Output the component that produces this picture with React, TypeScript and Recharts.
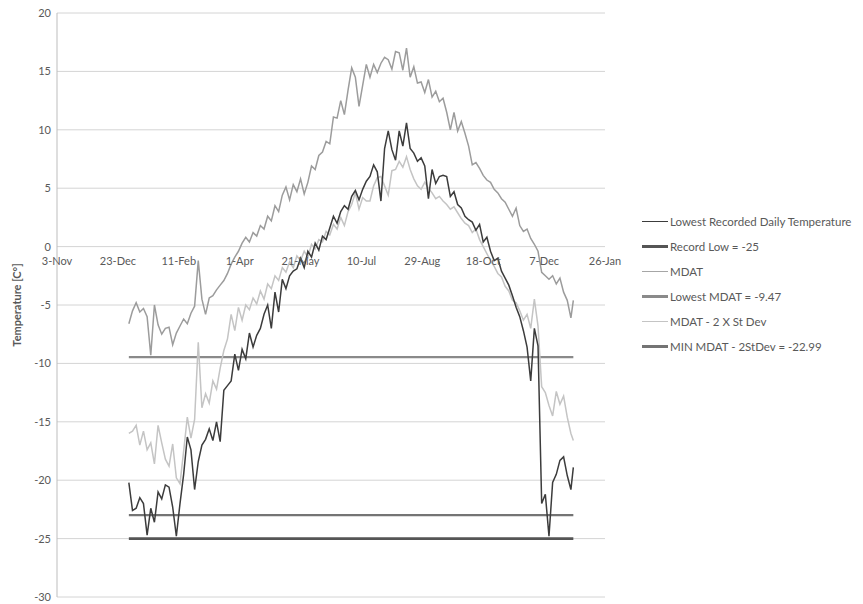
import React from "react";
import {
  LineChart,
  Line,
  XAxis,
  YAxis,
  CartesianGrid,
  ReferenceLine,
  Legend,
} from "recharts";

// x axis: days counted from 3-Nov (leap year), one label every 50 days
const xTickDays = [0, 50, 100, 150, 200, 250, 300, 350, 400, 450];
const xTickLabels = ["3-Nov", "23-Dec", "11-Feb", "1-Apr", "21-May", "10-Jul", "29-Aug", "18-Oct", "7-Dec", "26-Jan"];
const yTicks = [-30, -25, -20, -15, -10, -5, 0, 5, 10, 15, 20];

// day of year of each sample (Jan 1 = 1)
const days = [
  1, 4, 7, 10, 13, 16, 19, 22, 25, 28, 31, 34, 37, 40, 43, 46, 49, 52, 55, 58,
  61, 64, 67, 70, 73, 76, 79, 82, 85, 88, 91, 94, 97, 100, 103, 106, 109, 112, 115, 118,
  121, 124, 127, 130, 133, 136, 139, 142, 145, 148, 151, 154, 157, 160, 163, 166, 169, 172, 175, 178,
  181, 184, 187, 190, 193, 196, 199, 202, 205, 208, 211, 214, 217, 220, 223, 226, 229, 232, 235, 238,
  241, 244, 247, 250, 253, 256, 259, 262, 265, 268, 271, 274, 277, 280, 283, 286, 289, 292, 295, 298,
  301, 304, 307, 310, 313, 316, 319, 322, 325, 328, 331, 334, 337, 340, 343, 346, 349, 352, 355, 358,
  361, 364, 366,
];

const lowestRecorded = [
  -20.2, -22.6, -22.4, -21.5, -22.0, -24.7, -22.4, -23.6, -21.0, -21.6,
  -20.4, -20.6, -22.3, -24.8, -22.0, -19.5, -16.3, -17.4, -20.8, -18.4,
  -17.0, -16.5, -15.6, -16.6, -15.0, -16.7, -12.3, -11.9, -11.5, -9.2,
  -10.6, -8.8, -9.6, -7.4, -8.6, -7.6, -7.0, -5.8, -5.0, -7.0,
  -3.9, -5.6, -2.8, -3.6, -2.5, -2.1, -1.9, -1.0, -1.8, -0.4,
  -0.9, 0.3, -0.3, 0.9, 0.6, 1.6, 2.6, 2.0, 3.0, 3.5,
  3.2, 4.3, 4.8, 4.0, 4.9, 5.6, 6.0, 7.0, 6.4, 3.9,
  8.4, 9.9, 8.3, 7.4, 9.9, 8.6, 10.6, 8.4, 8.0, 7.3,
  7.6, 6.9, 4.1, 6.6, 5.4, 6.0, 6.1, 6.0, 4.3, 4.7,
  3.6, 3.3, 2.6, 2.3, 2.1, 1.4, 1.9, 0.4, 0.8, -0.4,
  -1.2, -1.0, -2.1, -2.7, -3.3, -4.2, -5.2, -6.0, -7.2, -8.6,
  -11.5, -7.0, -8.5, -22.0, -21.2, -24.8, -20.2, -19.5, -18.3, -18.0,
  -19.6, -20.8, -18.9,
];

const mdat = [
  -6.6, -5.5, -4.8, -5.6, -5.3, -6.0, -9.3, -5.0, -6.7, -7.5,
  -7.0, -6.9, -8.4, -7.4, -6.8, -6.2, -6.6, -5.7, -5.1, -1.2,
  -4.5, -5.8, -4.4, -4.2, -3.7, -3.3, -2.9, -2.3, -1.5, -0.9,
  -0.4, 0.3, 0.8, 0.4, 1.2, 0.9, 1.8, 1.5, 2.6, 2.2,
  3.5, 3.0, 4.4, 5.1, 4.0, 5.3, 4.7, 5.8, 4.5, 5.5,
  6.9, 6.6, 7.8, 8.1, 9.0, 8.8, 11.1, 11.0, 12.5, 11.3,
  13.4, 15.3, 14.5, 12.0, 13.8, 15.6, 14.5, 15.6, 14.9, 15.7,
  16.2, 16.0, 15.2, 16.7, 16.6, 15.1, 17.0, 14.5, 15.4, 14.0,
  14.1, 13.2, 14.3, 12.8, 13.3, 12.4, 12.7, 11.5, 10.0, 11.5,
  9.9, 10.7, 9.7, 8.6, 7.0, 7.2, 6.7, 6.1, 5.7, 5.5,
  4.9, 4.6, 4.1, 3.8, 3.2, 2.6, 3.3, 1.8, 1.3, 1.5,
  0.7, 0.2, -0.4, -2.2, -2.5, -2.8, -2.5, -3.2, -2.7, -3.9,
  -4.6, -6.1, -4.6,
];

const mdatMinus2Sd = [
  -16.0, -15.8, -15.3, -17.0, -15.8, -17.4, -16.8, -18.6, -15.3, -16.8,
  -18.2, -18.8, -16.9, -19.8, -20.3, -17.5, -14.6, -16.4, -14.8, -8.2,
  -13.8, -12.6, -13.4, -11.5, -12.2, -10.4, -8.9, -7.9, -5.8, -7.2,
  -5.2, -6.3, -5.0, -5.4, -4.4, -4.9, -3.8, -4.5, -3.2, -3.6,
  -2.5, -2.9, -1.8, -2.2, -1.3, -1.8, -0.8, -1.2, -0.4, -0.9,
  0.2, -0.2, 0.6, 0.4, 1.3, 1.0, 1.9, 1.5, 2.5, 1.8,
  3.0, 3.6, 4.6, 3.2, 4.2, 3.9, 3.9, 5.2, 5.9, 6.0,
  5.2, 4.4, 6.5, 6.6, 7.3, 6.8, 7.7, 6.6, 5.8, 5.2,
  4.9, 5.5, 5.0, 4.6, 4.1, 4.3, 3.9, 3.6, 3.2, 3.4,
  2.9, 2.4, 2.0, 1.8, 1.2, 1.5, 0.6, 0.0, -0.6, -1.2,
  -1.7, -2.3, -2.6, -3.4, -3.8, -4.6, -4.8, -5.5, -6.3, -5.8,
  -7.0, -4.5, -6.8, -12.0, -12.5, -13.6, -14.5, -12.4, -13.5, -12.8,
  -14.6, -16.0, -16.6,
];

const recordLow = -25;
const lowestMdat = -9.47;
const minMdat2Sd = -22.99;

const JAN1_OFFSET = 58; // 3-Nov + 59 days = 1-Jan

// layout
const W = 863;
const H = 604;
const PLOT_TOP = 13;
const PLOT_BOTTOM = 597;
const LEGEND_W = 221;
const PLOT_RIGHT = 605;
const Y_MIN = -30;
const Y_MAX = 20;
const ZERO_Y = PLOT_TOP + ((PLOT_BOTTOM - PLOT_TOP) * Y_MAX) / (Y_MAX - Y_MIN);

const TEXT = "#595959";

const data = days.map((d, i) => ({
  day: d + JAN1_OFFSET,
  low: lowestRecorded[i],
  mdat: mdat[i],
  mdat2sd: mdatMinus2Sd[i],
}));

const firstDay = days[0] + JAN1_OFFSET;
const lastDay = days[days.length - 1] + JAN1_OFFSET;

const legendItems = [
  { name: "Lowest Recorded Daily Temperature", color: "#3c3c3c", width: 1.5 },
  { name: "Record Low = -25", color: "#555555", width: 2.6 },
  { name: "MDAT", color: "#a6a6a6", width: 1.5 },
  { name: "Lowest MDAT = -9.47", color: "#8a8a8a", width: 2.2 },
  { name: "MDAT - 2 X St Dev", color: "#c4c4c4", width: 1.5 },
  { name: "MIN MDAT - 2StDev = -22.99", color: "#747474", width: 2.2 },
];

// x labels sit just under the 0 line, like Excel's crossing axis
function DateTick(props: any) {
  const { x, payload } = props;
  const idx = xTickDays.indexOf(payload.value);
  return (
    <text x={x} y={ZERO_Y + 18} textAnchor="middle" fill={TEXT} fontSize={11}>
      {xTickLabels[idx]}
    </text>
  );
}

function AxisTitle() {
  const cx = 21;
  const cy = (PLOT_TOP + PLOT_BOTTOM) / 2;
  return (
    <text
      x={cx}
      y={cy}
      transform={`rotate(-90 ${cx} ${cy})`}
      textAnchor="middle"
      fontSize={11}
      fontWeight="bold"
      fill={TEXT}
    >
      Temperature [C°]
    </text>
  );
}

function LegendBox() {
  return (
    <div>
      {legendItems.map((it) => (
        <div
          key={it.name}
          style={{ display: "flex", alignItems: "center", height: 25, whiteSpace: "nowrap" }}
        >
          <span
            style={{
              display: "inline-block",
              width: 26,
              height: it.width,
              background: it.color,
              marginRight: 2,
            }}
          />
          <span style={{ fontSize: 11.5, color: TEXT }}>{it.name}</span>
        </div>
      ))}
    </div>
  );
}

export default function App() {
  return (
    <div
      style={{
        position: "absolute",
        left: 0,
        top: 0,
        width: W,
        height: H,
        background: "#fff",
        fontFamily: "Lato, 'Open Sans', sans-serif",
      }}
    >
      <LineChart
        width={W}
        height={H}
        data={data}
        margin={{ top: PLOT_TOP, right: W - PLOT_RIGHT - LEGEND_W, bottom: 0, left: 0 }}
      >
        <CartesianGrid vertical={false} stroke="#d4d4d4" strokeWidth={1} />
        <XAxis
          type="number"
          dataKey="day"
          domain={[0, 450]}
          ticks={xTickDays}
          interval={0}
          tick={<DateTick />}
          axisLine={false}
          tickLine={false}
          height={H - PLOT_BOTTOM}
        />
        <YAxis
          type="number"
          domain={[Y_MIN, Y_MAX]}
          ticks={yTicks}
          interval={0}
          width={57}
          axisLine={{ stroke: "#bdbdbd" }}
          tickLine={false}
          tickSize={0}
          tickMargin={6}
          tick={{ fill: TEXT, fontSize: 11 }}
          label={<AxisTitle />}
        />
        <Legend
          layout="vertical"
          align="right"
          verticalAlign="top"
          content={<LegendBox />}
          wrapperStyle={{ left: 642, top: 209, width: LEGEND_W }}
        />

        <ReferenceLine
          segment={[{ x: firstDay, y: lowestMdat }, { x: lastDay, y: lowestMdat }]}
          stroke={legendItems[3].color}
          strokeWidth={legendItems[3].width}
        />
        <ReferenceLine
          segment={[{ x: firstDay, y: minMdat2Sd }, { x: lastDay, y: minMdat2Sd }]}
          stroke={legendItems[5].color}
          strokeWidth={legendItems[5].width}
        />
        <ReferenceLine
          segment={[{ x: firstDay, y: recordLow }, { x: lastDay, y: recordLow }]}
          stroke={legendItems[1].color}
          strokeWidth={legendItems[1].width}
        />

        <Line
          dataKey="mdat2sd"
          stroke={legendItems[4].color}
          strokeWidth={1.5}
          dot={false}
          activeDot={false}
          isAnimationActive={false}
        />
        <Line
          dataKey="mdat"
          stroke="#9c9c9c"
          strokeWidth={1.5}
          dot={false}
          activeDot={false}
          isAnimationActive={false}
        />
        <Line
          dataKey="low"
          stroke={legendItems[0].color}
          strokeWidth={1.5}
          dot={false}
          activeDot={false}
          isAnimationActive={false}
        />
      </LineChart>
    </div>
  );
}
